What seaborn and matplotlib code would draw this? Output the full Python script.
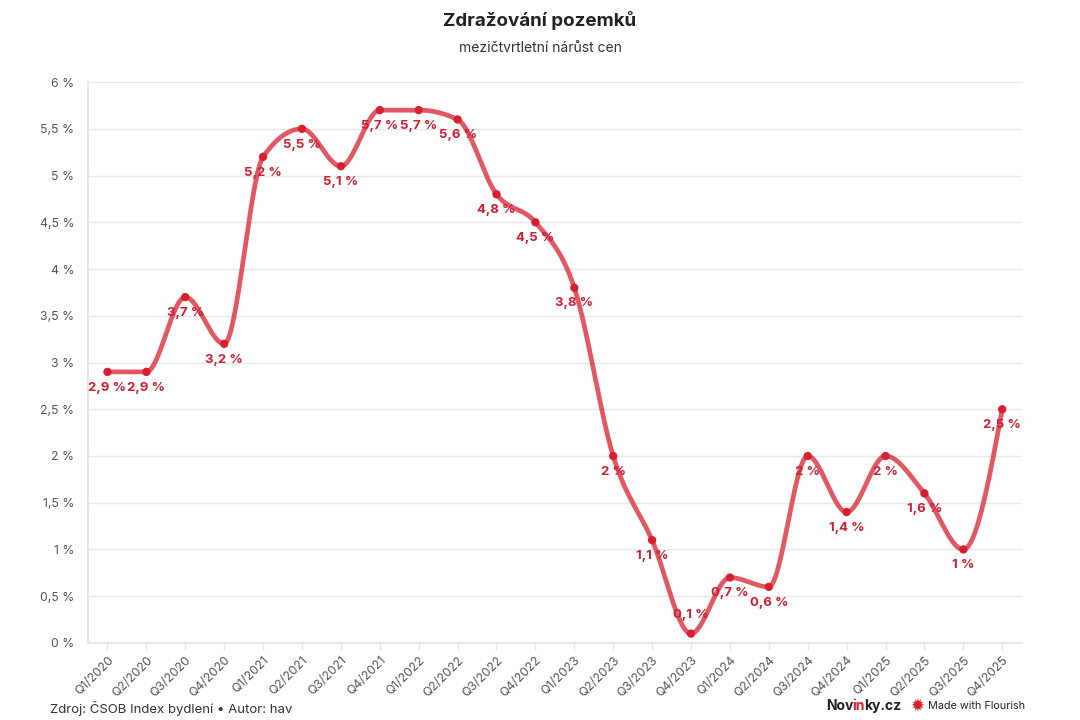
import numpy as np
import pandas as pd
import matplotlib
matplotlib.use("Agg")
import matplotlib.pyplot as plt
import seaborn as sns

quarters = ["Q1/2020", "Q2/2020", "Q3/2020", "Q4/2020", "Q1/2021", "Q2/2021",
            "Q3/2021", "Q4/2021", "Q1/2022", "Q2/2022", "Q3/2022", "Q4/2022",
            "Q1/2023", "Q2/2023", "Q3/2023", "Q4/2023", "Q1/2024", "Q2/2024",
            "Q3/2024", "Q4/2024", "Q1/2025", "Q2/2025", "Q3/2025", "Q4/2025"]
growth = [2.9, 2.9, 3.7, 3.2, 5.2, 5.5, 5.1, 5.7, 5.7, 5.6, 4.8, 4.5,
          3.8, 2.0, 1.1, 0.1, 0.7, 0.6, 2.0, 1.4, 2.0, 1.6, 1.0, 2.5]
ytick_vals = [0, 0.5, 1, 1.5, 2, 2.5, 3, 3.5, 4, 4.5, 5, 5.5, 6]

title = "Zdražování pozemků"
subtitle = "mezičtvrtletní nárůst cen"
source = "Zdroj: ČSOB Index bydlení • Autor: hav"


def fmt(v):
    s = f"{v:g}".replace(".", ",")
    return f"{s} %"


def monotone_curve(x, y, n=30):
    x = np.asarray(x, float)
    y = np.asarray(y, float)
    h = np.diff(x)
    s = np.diff(y) / h
    m = len(x)
    t = np.zeros(m)
    for i in range(1, m - 1):
        h0, h1 = h[i - 1], h[i]
        s0, s1 = s[i - 1], s[i]
        p = (s0 * h1 + s1 * h0) / (h0 + h1)
        t[i] = (np.sign(s0) + np.sign(s1)) * min(abs(s0), abs(s1), 0.5 * abs(p))
    t[0] = (3 * s[0] - t[1]) / 2
    t[-1] = (3 * s[-1] - t[-2]) / 2
    xs, ys = [], []
    for i in range(m - 1):
        u = np.linspace(0, 1, n, endpoint=(i == m - 2))
        h00 = 2 * u**3 - 3 * u**2 + 1
        h10 = u**3 - 2 * u**2 + u
        h01 = -2 * u**3 + 3 * u**2
        h11 = u**3 - u**2
        xs.append(x[i] + u * h[i])
        ys.append(h00 * y[i] + h10 * h[i] * t[i] + h01 * y[i + 1] + h11 * h[i] * t[i + 1])
    return np.concatenate(xs), np.concatenate(ys)


sns.set_theme(style="white")
plt.rcParams["font.family"] = ["Inter", "DejaVu Sans"]

df = pd.DataFrame({"q": quarters, "v": growth, "i": np.arange(len(quarters))})
cx, cy = monotone_curve(df["i"], df["v"])
curve = pd.DataFrame({"x": cx, "y": cy})

fig = plt.figure(figsize=(10.8, 7.2), dpi=100)
ax = fig.add_axes([0.0815, 0.107, 0.8645, 0.779])

for v in ytick_vals:
    ax.axhline(v, color="#e8e8e8", lw=1, zorder=0)

line_col = "#dc3a47"
dot_col = "#d81f30"
lab_col = "#cc1f33"

sns.lineplot(data=curve, x="x", y="y", ax=ax, color=line_col, lw=3.4,
             alpha=0.85, sort=False, zorder=2)
sns.scatterplot(data=df, x="i", y="v", ax=ax, color=dot_col, s=36,
                edgecolor="none", zorder=3)

for i, v in enumerate(growth):
    if v == 0.1:
        dy = 9
        va = "bottom"
    else:
        dy = -7
        va = "top"
    ax.annotate(fmt(v), (i, v), xytext=(0, dy), textcoords="offset points",
                ha="center", va=va, color=lab_col, fontsize=9.5,
                fontweight="bold", zorder=4)

ax.set_xlim(-0.5, len(quarters) - 0.5)
ax.set_ylim(0, 6)
ax.set_xticks(range(len(quarters)))
ax.set_xticklabels(quarters, rotation=45, ha="right", rotation_mode="anchor",
                   fontsize=8.8, color="#555555")
ax.set_yticks(ytick_vals)
ax.set_yticklabels([fmt(v) for v in ytick_vals], fontsize=8.8, color="#555555")
ax.tick_params(axis="y", length=0, pad=10)
ax.tick_params(axis="x", length=5, color="#e3e3e3", width=1, pad=3, bottom=True)
ax.set_xlabel("")
ax.set_ylabel("")
for sp in ["top", "right"]:
    ax.spines[sp].set_visible(False)
ax.spines["left"].set_color("#e3e3e3")
ax.spines["bottom"].set_color("#e3e3e3")

fig.text(0.5, 0.972, title, ha="center", va="center", fontsize=13.5,
         fontweight="bold", color="#222222")
fig.text(0.5, 0.934, subtitle, ha="center", va="center", fontsize=10,
         color="#333333")
fig.text(0.046, 0.006, source, ha="left", va="bottom", fontsize=9.5,
         color="#333333")

# branding, bottom right
fig.canvas.draw()
renderer = fig.canvas.get_renderer()
x = 826 / 1080
y_b = 0.0195
for part, col in [("Nov", "#222222"), ("in", "#d81f30"), ("ky.cz", "#222222")]:
    t = fig.text(x, y_b, part, ha="left", va="center", fontsize=10,
                 fontweight="bold", color=col)
    bb = t.get_window_extent(renderer)
    x += (bb.width - 1.0) / 1080
fig.text(x + 0.010, y_b, "✹", ha="left", va="center", fontsize=12,
         color="#d81f30", family="DejaVu Sans")
fig.text(x + 0.026, y_b, "Made with Flourish", ha="left", va="center",
         fontsize=7.8, color="#222222")

fig.savefig("out.png", dpi=100, facecolor="white")
